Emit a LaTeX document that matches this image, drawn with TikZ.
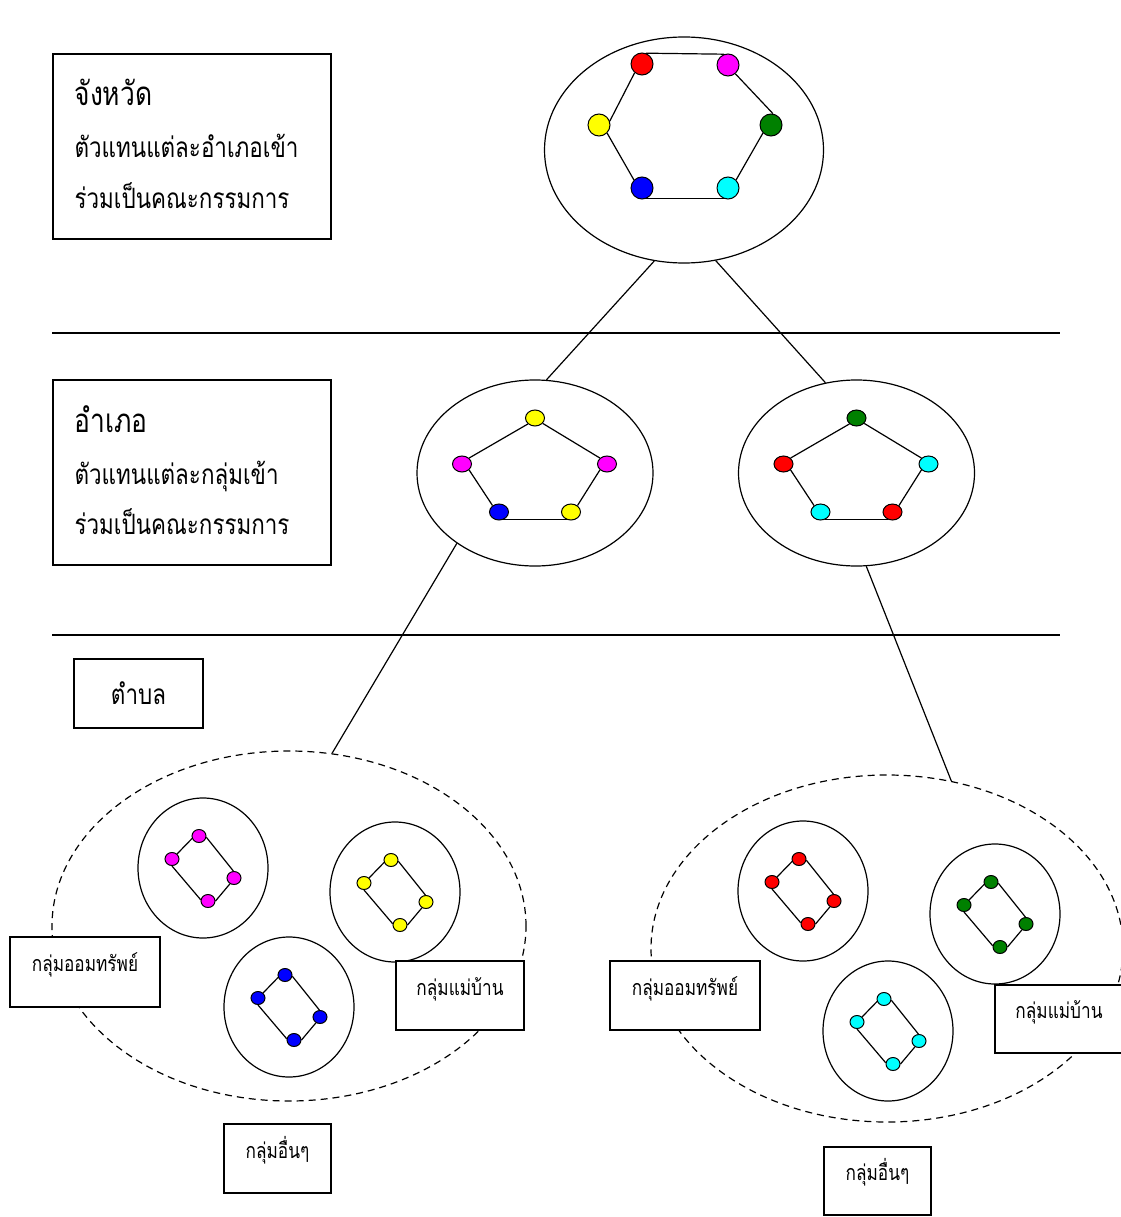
\documentclass[tikz,border=0pt]{standalone}
\usepackage{fontspec}
\newfontfamily\thaifont[Script=Thai, FakeStretch=0.8]{Loma}
\usetikzlibrary{shapes.geometric}
\definecolor{dotred}{RGB}{255,0,0}
\definecolor{dotmagenta}{RGB}{255,0,255}
\definecolor{dotgreen}{RGB}{0,128,0}
\definecolor{dotcyan}{RGB}{0,255,255}
\definecolor{dotblue}{RGB}{0,0,255}
\definecolor{dotyellow}{RGB}{255,255,0}
\tikzset{
    x=1pt, y=-1pt,
    every node/.style={font=\thaifont\fontsize{28}{32}\selectfont},
    infobox/.style={draw, fill=white, inner sep=0pt},
    textline/.style={anchor=base west, inner sep=0pt},
    grpbox/.style={draw, fill=white, inner sep=0pt, text height=16pt, text depth=17pt,
        font=\thaifont\fontsize{21.5}{24}\selectfont},
    ring/.style={draw, ellipse, inner sep=0pt},
    zone/.style={draw, ellipse, inner sep=0pt, dash pattern=on 7pt off 5pt},
    bigdot/.style={draw, circle, line width=1pt, minimum size=22pt, inner sep=0pt},
    middot/.style={draw, ellipse, line width=1pt, minimum width=19pt, minimum height=16pt, inner sep=0pt},
    smalldot/.style={draw, ellipse, line width=1pt, minimum width=14pt, minimum height=13pt, inner sep=0pt},
}

% one group of four members inside a ring
\newcommand{\smallgroup}[4]{%
    \node[ring, minimum width=130pt, minimum height=140pt] (#1) at (#2,#3) {};
    \begin{scope}[shift={(#2,#3)}]
        \node[smalldot, fill=#4] (#1-a) at (-4,-32) {};
        \node[smalldot, fill=#4] (#1-b) at (-31,-9) {};
        \node[smalldot, fill=#4] (#1-c) at (31,10) {};
        \node[smalldot, fill=#4] (#1-d) at (5,33) {};
    \end{scope}
    \draw (#1-a.200) -- (#1-b.45);
    \draw (#1-a.-10) -- (#1-c.95);
    \draw (#1-b.-90) -- (#1-d.170);
    \draw (#1-d.0) -- (#1-c.235);
}

% district committee: five members inside a ring
\newcommand{\pentring}[8]{%
    \node[ring, minimum width=236pt, minimum height=186pt] (#1) at (#2,#3) {};
    \begin{scope}[shift={(#2,#3)}]
        \node[middot, fill=#4] (#1-t) at (0,-55) {};
        \node[middot, fill=#5] (#1-l) at (-73,-9) {};
        \node[middot, fill=#6] (#1-r) at (72,-9) {};
        \node[middot, fill=#7] (#1-bl) at (-36,39) {};
        \node[middot, fill=#8] (#1-br) at (36,39) {};
    \end{scope}
    \draw (#1-t.220) -- (#1-l.40);
    \draw (#1-t.-35) -- (#1-r.140);
    \draw (#1-l.-40) -- (#1-bl.135);
    \draw (#1-r.220) -- (#1-br.45);
    \draw (#1-bl.-60) -- (#1-br.240);
}

\begin{document}
\begin{tikzpicture}[line width=1.2pt]
\useasboundingbox (0,0) rectangle (1120,1217);

% level dividers
\draw (52,333) -- (1060,333);
\draw (52,635) -- (1060,635);

% province
\node[infobox, minimum width=278pt, minimum height=185pt] (prov) at (192,146.5) {};
\node[textline, font=\thaifont\fontsize{33}{36}\selectfont] (prov-title) at (74,106) {จังหวัด};
\node[textline] (prov-l1) at (74,158) {ตัวแทนแต่ละอำเภอเข้า};
\node[textline] (prov-l2) at (74,208) {ร่วมเป็นคณะกรรมการ};

\node[ring, minimum width=279pt, minimum height=226pt] (top) at (684,150) {};
\node[bigdot, fill=dotred] (h-r) at (642,64) {};
\node[bigdot, fill=dotmagenta] (h-m) at (728,65) {};
\node[bigdot, fill=dotgreen] (h-g) at (771,125) {};
\node[bigdot, fill=dotcyan] (h-c) at (728,188) {};
\node[bigdot, fill=dotblue] (h-b) at (642,188) {};
\node[bigdot, fill=dotyellow] (h-y) at (599,125) {};
\draw (h-r.70) -- (h-m.110);
\draw (h-m.-50) -- (h-g.80);
\draw (h-g.225) -- (h-c.45);
\draw (h-c.250) -- (h-b.290);
\draw (h-b.135) -- (h-y.-45);
\draw (h-y.20) -- (h-r.230);

% district
\node[infobox, minimum width=278pt, minimum height=185pt] (dist) at (192,472.5) {};
\node[textline, font=\thaifont\fontsize{33}{36}\selectfont] (dist-title) at (74,432) {อำเภอ};
\node[textline] (dist-l1) at (74,484) {ตัวแทนแต่ละกลุ่มเข้า};
\node[textline] (dist-l2) at (74,534) {ร่วมเป็นคณะกรรมการ};

\pentring{midl}{535}{473}{dotyellow}{dotmagenta}{dotmagenta}{dotblue}{dotyellow}
\pentring{midr}{856.5}{473}{dotgreen}{dotred}{dotcyan}{dotcyan}{dotred}

\draw (top.255) -- (midl.83);
\draw (top.286) -- (midr.109);

% sub-district
\node[infobox, minimum width=129pt, minimum height=69pt] (sub) at (138.5,693.5) {ตำบล};

\node[zone, minimum width=474pt, minimum height=350pt] (zonel) at (289,926) {};
\node[zone, minimum width=472pt, minimum height=347pt] (zoner) at (887,948.5) {};

\draw (midl.222) -- (zonel.76);
\draw (midr.276) -- (zoner.69);

\smallgroup{gl1}{203}{868}{dotmagenta}
\smallgroup{gl2}{395}{892}{dotyellow}
\smallgroup{gl3}{289}{1007}{dotblue}
\smallgroup{gr1}{803}{891}{dotred}
\smallgroup{gr2}{995}{914}{dotgreen}
\smallgroup{gr3}{888}{1031}{dotcyan}

\node[grpbox, minimum width=150pt, minimum height=70pt] (sav-l) at (85,972) {กลุ่มออมทรัพย์};
\node[grpbox, minimum width=128pt, minimum height=69pt] (wive-l) at (460,995.5) {กลุ่มแม่บ้าน};
\node[grpbox, minimum width=107pt, minimum height=69pt] (other-l) at (277.5,1158.5) {กลุ่มอื่นๆ};
\node[grpbox, minimum width=150pt, minimum height=69pt] (sav-r) at (685,995.5) {กลุ่มออมทรัพย์};
\node[grpbox, minimum width=128pt, minimum height=68pt] (wive-r) at (1059,1019) {กลุ่มแม่บ้าน};
\node[grpbox, minimum width=107pt, minimum height=68pt] (other-r) at (877.5,1181) {กลุ่มอื่นๆ};

\end{tikzpicture}
\end{document}
